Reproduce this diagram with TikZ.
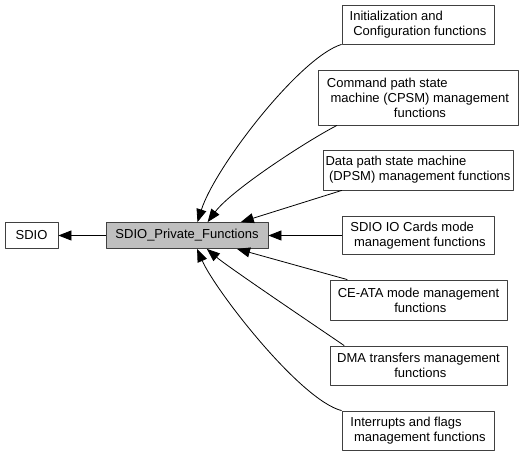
\documentclass[tikz,border=0pt]{standalone}
\usepackage{fontspec}
\setmainfont{Liberation Sans}
\usepackage{tikz}
\usetikzlibrary{arrows.meta}
\usetikzlibrary{shapes}

\definecolor{boxline}{HTML}{404040}
\definecolor{boxfill}{HTML}{BFBFBF}

\begin{document}
\begin{tikzpicture}[>={Triangle[length=13bp,width=10bp]},line join=bevel,
  box/.style={draw=boxline,line width=0.8bp,fill=white,inner sep=0pt,font=\fontsize{13bp}{15bp}\selectfont},
  arr/.style={black,line width=0.8bp,->}]
\useasboundingbox (0bp,0bp) rectangle (529bp,457bp);
%%
\node (node_sdio) at (31.5bp,221.5bp) [box,minimum width=53bp,minimum height=26bp] {SDIO};
  \node (node_priv) at (187bp,221.5bp) [box,fill=boxfill,minimum width=162bp,minimum height=26bp] {SDIO\_Private\_Functions};
  \node (node_init) at (418bp,432.5bp) [box,align=left,minimum width=152bp,minimum height=39bp] {Initialization and\\\ Configuration functions};
  \node (node_cpsm) at (418bp,359.5bp) [box,align=left,minimum width=200bp,minimum height=55bp] {Command path state\\\ machine (CPSM) management\\\hspace*{67bp}functions};
  \node (node_dpsm) at (418bp,287bp) [box,align=left,minimum width=190bp,minimum height=40bp] {Data path state machine\\\ (DPSM) management functions};
  \node (node_sdioio) at (418bp,221.5bp) [box,align=left,minimum width=152bp,minimum height=38bp] {SDIO IO Cards mode\\\ management functions};
  \node (node_ceata) at (418.5bp,157bp) [box,align=center,minimum width=177bp,minimum height=40bp] {CE-ATA mode management\\\ functions};
  \node (node_dma) at (418.5bp,91.5bp) [box,align=center,minimum width=177bp,minimum height=39bp] {DMA transfers management\\\ functions};
  \node (node_irq) at (418bp,26.5bp) [box,align=left,minimum width=152bp,minimum height=39bp] {Interrupts and flags\\\ management functions};
  \draw [arr] (node_priv) -- (node_sdio);
  \draw [arr] (node_init.south west) ..controls (300bp,400bp) and (215bp,290bp)  .. (node_priv.52);
  \draw [arr] (node_cpsm.199) ..controls (305bp,315bp) and (231bp,266.5bp)  .. (node_priv.33);
  \draw [arr] (node_dpsm.195.7) -- (node_priv.14.6);
  \draw [arr] (node_sdioio) -- (node_priv);
  \draw [arr] (node_ceata.164.4) -- (node_priv.-15);
  \draw [arr] (node_dma.165) ..controls (320bp,128bp) and (228bp,190bp)  .. (node_priv.-34);
  \draw [arr] (node_irq.north west) ..controls (300bp,57bp) and (215bp,167bp)  .. (node_priv.-53);
%
\end{tikzpicture}
\end{document}
